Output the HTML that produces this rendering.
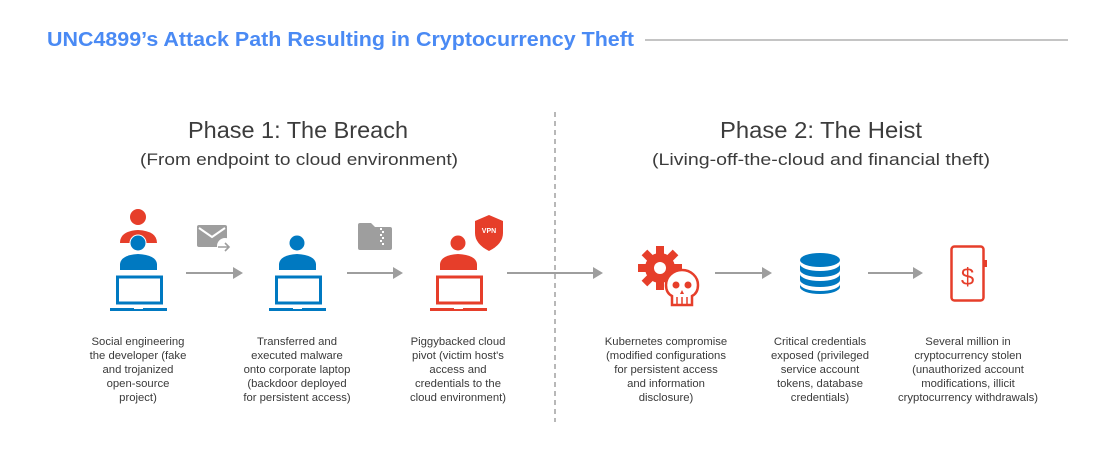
<!DOCTYPE html>
<html><head><meta charset="utf-8"><style>
html,body{margin:0;padding:0;background:#fff;}
svg{display:block;font-family:"Liberation Sans",sans-serif;}
</style></head><body>
<svg width="1113" height="465" viewBox="0 0 1113 465" xmlns="http://www.w3.org/2000/svg">
<rect width="1113" height="465" fill="#fff"/>
<text x="47" y="46" font-size="20" font-weight="bold" fill="#4a8af4" textLength="587" lengthAdjust="spacingAndGlyphs">UNC4899’s Attack Path Resulting in Cryptocurrency Theft</text>
<line x1="645" y1="40" x2="1068" y2="40" stroke="#888" stroke-width="1"/>
<line x1="555" y1="112" x2="555" y2="422" stroke="#888" stroke-width="1.2" stroke-dasharray="5,4"/>

<g fill="#3c3c3c">
<text x="188" y="138" font-size="23" textLength="220" lengthAdjust="spacingAndGlyphs">Phase 1: The Breach</text>
<text x="140" y="165" font-size="17" textLength="318" lengthAdjust="spacingAndGlyphs">(From endpoint to cloud environment)</text>
<text x="720" y="138" font-size="23" textLength="202" lengthAdjust="spacingAndGlyphs">Phase 2: The Heist</text>
<text x="652" y="165" font-size="17" textLength="338" lengthAdjust="spacingAndGlyphs">(Living-off-the-cloud and financial theft)</text>
</g>

<!-- arrows -->
<g stroke="#9e9e9e" stroke-width="2" fill="#9e9e9e">
<line x1="186" y1="273" x2="234" y2="273"/><polygon points="233,267 243,273 233,279" stroke="none"/>
<line x1="347" y1="273" x2="394" y2="273"/><polygon points="393,267 403,273 393,279" stroke="none"/>
<line x1="507" y1="273" x2="594" y2="273"/><polygon points="593,267 603,273 593,279" stroke="none"/>
<line x1="715" y1="273" x2="763" y2="273"/><polygon points="762,267 772,273 762,279" stroke="none"/>
<line x1="868" y1="273" x2="914" y2="273"/><polygon points="913,267 923,273 913,279" stroke="none"/>
</g>

<!-- person 1 -->
<circle cx="138" cy="217" r="8" fill="#E63E2A"/>
<path d="M120,243 Q120,231 138,230 Q157,231 157,243 Z" fill="#E63E2A"/>
<circle cx="138" cy="243" r="8.5" fill="#fff"/>
<circle cx="138" cy="243" r="7.5" fill="#0079C1"/>
<path d="M120,270 L120,264 Q121,255 138,254 Q156,255 157,264 L157,270 Z" fill="#0079C1"/>
<rect x="117.5" y="277" width="44" height="26" fill="none" stroke="#0079C1" stroke-width="3"/>
<rect x="110" y="308" width="57" height="3" fill="#0079C1"/>
<rect x="134" y="307" width="9" height="2" fill="#fff"/>

<!-- envelope -->
<rect x="197" y="225" width="30" height="22" rx="2" fill="#9e9e9e"/>
<polyline points="199,228 212,237 225,228" fill="none" stroke="#fff" stroke-width="2"/>
<circle cx="225" cy="246" r="8" fill="#fff"/>
<path d="M218,247 H229 M225,243 L229,247 L225,251" stroke="#9e9e9e" stroke-width="1.6" fill="none"/>

<!-- person 2 -->
<circle cx="297" cy="243" r="7.5" fill="#0079C1"/>
<path d="M279,270 L279,264 Q280,255 297,254 Q315,255 316,264 L316,270 Z" fill="#0079C1"/>
<rect x="276.5" y="277" width="44" height="26" fill="none" stroke="#0079C1" stroke-width="3"/>
<rect x="269" y="308" width="57" height="3" fill="#0079C1"/>
<rect x="293" y="307" width="9" height="2" fill="#fff"/>

<!-- folder -->
<path d="M358,225 Q358,223 360,223 H371 L375,227 H390 Q392,227 392,229 V248 Q392,250 390,250 H360 Q358,250 358,248 Z" fill="#9e9e9e"/>
<g fill="#fff"><rect x="380" y="228" width="2" height="2"/><rect x="382" y="231" width="2" height="2"/><rect x="380" y="234" width="2" height="2"/><rect x="382" y="237" width="2" height="2"/><rect x="380" y="240" width="2" height="2"/><rect x="382" y="243" width="2" height="2"/></g>

<!-- person 3 -->
<circle cx="458" cy="243" r="7.5" fill="#E63E2A"/>
<path d="M440,270 L440,264 Q441,255 458,254 Q476,255 477,264 L477,270 Z" fill="#E63E2A"/>
<rect x="437.5" y="277" width="44" height="26" fill="none" stroke="#E63E2A" stroke-width="3"/>
<rect x="430" y="308" width="57" height="3" fill="#E63E2A"/>
<rect x="454" y="307" width="9" height="2" fill="#fff"/>
<path d="M489,215 L503,221 V233 Q503,244 489,251 Q475,244 475,233 V221 Z" fill="#E63E2A"/>
<text x="489" y="233" font-size="7" font-weight="bold" fill="#fff" text-anchor="middle">VPN</text>

<!-- gear + skull -->
<g fill="#E63E2A">
<circle cx="660" cy="268" r="15"/>
<g transform="translate(660,268)">
<rect x="-4" y="-22" width="8" height="44"/>
<rect x="-4" y="-22" width="8" height="44" transform="rotate(45)"/>
<rect x="-4" y="-22" width="8" height="44" transform="rotate(90)"/>
<rect x="-4" y="-22" width="8" height="44" transform="rotate(135)"/>
</g>
</g>
<circle cx="660" cy="268" r="6" fill="#fff"/>
<path d="M682,270 a16,15 0 0 1 16,15 q0,8 -6,11 v9 h-20 v-9 q-6,-3 -6,-11 a16,15 0 0 1 16,-15 z" fill="#fff" stroke="#E63E2A" stroke-width="2.5"/>
<circle cx="676" cy="285" r="3.5" fill="#E63E2A"/>
<circle cx="688" cy="285" r="3.5" fill="#E63E2A"/>
<polygon points="682,290 680,294 684,294" fill="#E63E2A"/>
<path d="M677,297 v8 M682,297 v8 M687,297 v8" stroke="#E63E2A" stroke-width="1.5"/>

<!-- database -->
<g fill="#0079C1">
<ellipse cx="820" cy="260" rx="20" ry="7"/>
<path d="M800,264 a20,7 0 0 0 40,0 v6 a20,7 0 0 1 -40,0 z"/>
<path d="M800,274 a20,7 0 0 0 40,0 v6 a20,7 0 0 1 -40,0 z"/>
<path d="M800,284 a20,7 0 0 0 40,0 v3 a20,7 0 0 1 -40,0 z"/>
</g>

<!-- phone -->
<rect x="951.5" y="246.5" width="32" height="54" rx="3" fill="none" stroke="#E63E2A" stroke-width="2.5"/>
<rect x="984" y="260" width="3" height="7" fill="#E63E2A"/>
<text x="967.5" y="285" font-size="24" fill="#E63E2A" text-anchor="middle">$</text>

<!-- labels -->
<g font-size="11.3" fill="#3a3a3a" text-anchor="middle">
<text x="138" y="345">Social engineering</text>
<text x="138" y="359">the developer (fake</text>
<text x="138" y="373">and trojanized</text>
<text x="138" y="387">open-source</text>
<text x="138" y="401">project)</text>

<text x="297" y="345">Transferred and</text>
<text x="297" y="359">executed malware</text>
<text x="297" y="373">onto corporate laptop</text>
<text x="297" y="387">(backdoor deployed</text>
<text x="297" y="401">for persistent access)</text>

<text x="458" y="345">Piggybacked cloud</text>
<text x="458" y="359">pivot (victim host's</text>
<text x="458" y="373">access and</text>
<text x="458" y="387">credentials to the</text>
<text x="458" y="401">cloud environment)</text>

<text x="666" y="345">Kubernetes compromise</text>
<text x="666" y="359">(modified configurations</text>
<text x="666" y="373">for persistent access</text>
<text x="666" y="387">and information</text>
<text x="666" y="401">disclosure)</text>

<text x="820" y="345">Critical credentials</text>
<text x="820" y="359">exposed (privileged</text>
<text x="820" y="373">service account</text>
<text x="820" y="387">tokens, database</text>
<text x="820" y="401">credentials)</text>

<text x="968" y="345">Several million in</text>
<text x="968" y="359">cryptocurrency stolen</text>
<text x="968" y="373">(unauthorized account</text>
<text x="968" y="387">modifications, illicit</text>
<text x="968" y="401">cryptocurrency withdrawals)</text>
</g>
</svg>
</body></html>
